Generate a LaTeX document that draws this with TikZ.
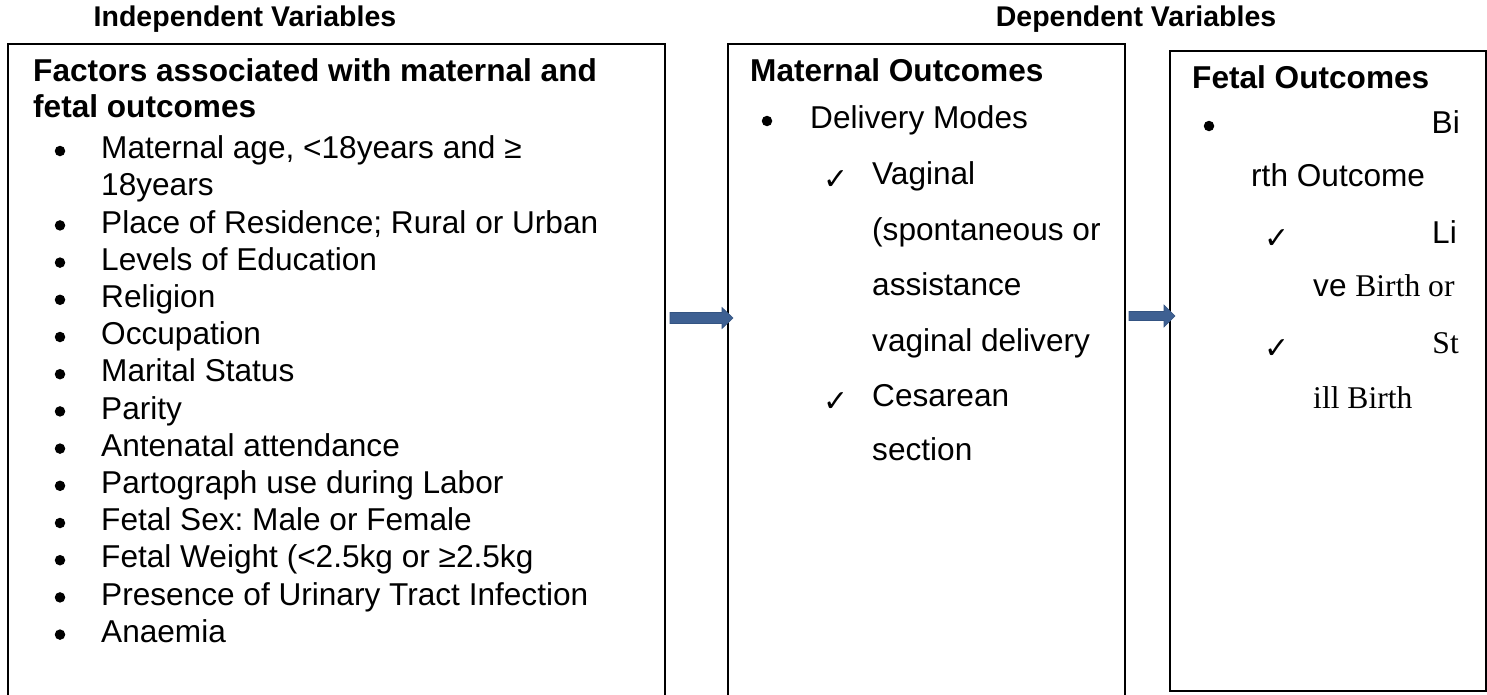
\documentclass[tikz,border=0pt]{standalone}
\usepackage{fontspec}
\setmainfont{Liberation Sans}
\newfontfamily\serifF{Liberation Serif}
\newfontfamily\symF{DejaVu Sans}
\usetikzlibrary{calc}
\frenchspacing
\definecolor{arrowblue}{RGB}{62,96,146}
\definecolor{arrowedge}{RGB}{52,84,130}
\tikzset{
  box/.style={draw=black, line width=2pt, inner sep=0pt, anchor=north west},
  txt/.style={inner sep=0pt, anchor=mid west, font=\fontsize{31.6}{36}\selectfont},
  txte/.style={txt, anchor=mid east},
  bld/.style={txt, font=\fontsize{31.6}{36}\selectfont\bfseries},
  hdr/.style={inner sep=0pt, anchor=mid, font=\fontsize{28.5}{34}\selectfont\bfseries},
  bul/.style={circle, fill=black, inner sep=0pt, minimum size=10.5pt},
  chk/.style={inner sep=0pt, anchor=center, font=\symF\fontsize{30}{34}\selectfont},
  blockarrow/.style={fill=arrowblue, draw=arrowedge, line width=0.6pt}
}
\begin{document}
\begin{tikzpicture}[x=1pt,y=1pt]
\clip (0,0) rectangle (1487,-694);
\fill[white] (0,0) rectangle (1487,-694);
% boxes
\node[box, minimum width=657pt, minimum height=700pt] (indep) at (7,-43) {};
\node[box, minimum width=397pt, minimum height=700pt] (mat) at (727,-43) {};
\node[box, minimum width=316pt, minimum height=640pt] (fet) at (1169,-50) {};
% headers
\node[hdr] (hIndep) at (245,-24) {Independent Variables};
\node[hdr] (hDep) at (1136,-24) {Dependent Variables};
% left box
\node[bld] (t1) at (33,-79) {Factors associated with maternal and};
\node[bld] (t2) at (33,-115) {fetal outcomes};
\foreach \i/\t [count=\n] in {0/{Maternal age, <18years and ≥},2/{Place of Residence; Rural or Urban},3/{Levels of Education},4/{Religion},5/{Occupation},6/{Marital Status},7/{Parity},8/{Antenatal attendance},9/{Partograph use during Labor},10/{Fetal Sex: Male or Female},11/{Fetal Weight (<2.5kg or ≥2.5kg},12/{Presence of Urinary Tract Infection},13/{Anaemia}}{
  \node[bul] (lb\n) at (60,{-156-\i*37.2+5}) {};
  \node[txt] (lt\n) at (101,{-156-\i*37.2}) {\t};
}
\node[txt] (lcont) at (101,{-156-1*37.2}) {18years};
% middle box
\node[bld] (m0) at (750,-79) {Maternal Outcomes};
\node[bul] (mb1) at (767,-121) {};
\node[txt] (m1) at (810,-126) {Delivery Modes};
\node[chk] (mc1) at (836,-180) {✓};
\node[txt] (m2) at (872,-182) {Vaginal};
\node[txt] (m3) at (872,-238) {(spontaneous or};
\node[txt] (m4) at (872,-293) {assistance};
\node[txt] (m5) at (872,-349) {vaginal delivery};
\node[chk] (mc2) at (836,-402) {✓};
\node[txt] (m6) at (872,-404) {Cesarean};
\node[txt] (m7) at (872,-458) {section};
% right box
\node[bld] (f0) at (1192,-86) {Fetal Outcomes};
\node[bul] (fb1) at (1209,-126) {};
\node[txte] (f1) at (1460,-131) {Bi};
\node[txt] (f2) at (1251,-184) {rth Outcome};
\node[chk] (fc1) at (1277,-239) {✓};
\node[txte] (f3) at (1457,-241) {Li};
\node[txt] (f4) at (1313,-294) {ve {\serifF Birth or}};
\node[chk] (fc2) at (1277,-349) {✓};
\node[txte] (f5) at (1459,-351) {\serifF St};
\node[txt] (f6) at (1313,-406) {\serifF ill Birth};
% block arrows
\coordinate (a1s) at ($(indep.north east)+(4,-269.5)$);
\coordinate (a2s) at ($(mat.north east)+(3,-268.5)$);
\fill[blockarrow] (a1s) -- ++(52,0) -- ++(0,5) -- ++(11,-10.5) -- ++(-11,-10.5) -- ++(0,5) -- ++(-52,0) -- cycle;
\fill[blockarrow] (a2s) -- ++(35,0) -- ++(0,6.5) -- ++(11,-11) -- ++(-11,-11) -- ++(0,6.5) -- ++(-35,0) -- cycle;
\end{tikzpicture}
\end{document}
